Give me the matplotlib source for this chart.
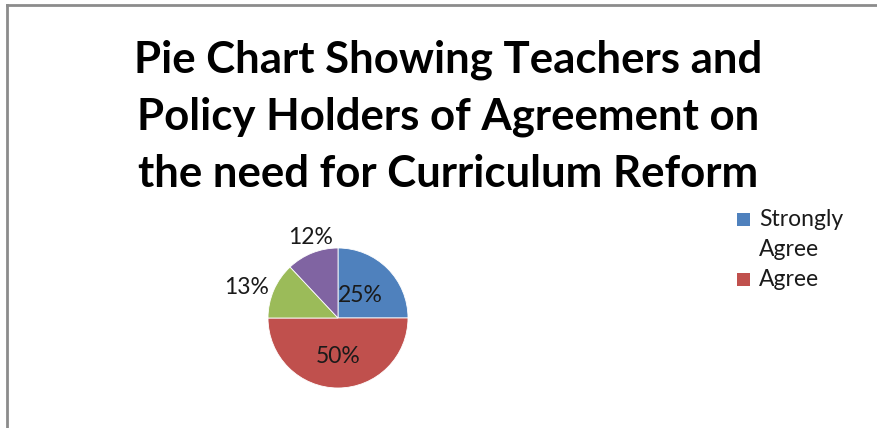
import numpy as np
import matplotlib
matplotlib.use("Agg")
import matplotlib.pyplot as plt
from matplotlib.lines import Line2D
from matplotlib.patches import Rectangle

categories = ["Strongly\nAgree", "Agree", "Disagree", "Strongly\nDisagree"]
values = [25, 50, 13, 12]
colors = ["#4F81BD", "#C0504D", "#9BBB59", "#8064A2"]
label_dist = [0.45, 0.55, 1.08, 1.08]   # < 1 inside the slice, > 1 outside

title = ("Pie Chart Showing Teachers and\n"
         "Policy Holders of Agreement on\n"
         "the need for Curriculum Reform")

plt.rcParams['font.family'] = ['Lato', 'DejaVu Sans']

W, H = 878, 428
fig = plt.figure(figsize=(W / 100, H / 100), dpi=100)

# frame lines (top and left only visible in the crop)
fig.add_artist(Line2D([7 / W, 1], [1 - 5 / H, 1 - 5 / H], color="#8c8c8c", lw=2))
fig.add_artist(Line2D([7 / W, 7 / W], [0, 1 - 5 / H], color="#8c8c8c", lw=2))

fig.text(0.51, 0.727, title, ha="center", va="center", fontsize=31.5,
         fontweight="bold", linespacing=1.5, color="black")

ax = fig.add_axes([268 / W, 40 / H, 140 / W, 140 / H])
wedges, texts = ax.pie(values, colors=colors, startangle=90, counterclock=False,
                       radius=1, wedgeprops=dict(edgecolor="white", linewidth=0.6))
ax.set_xlim(-1, 1)
ax.set_ylim(-1, 1)
ax.set_aspect("equal")
ax.axis("off")

total = sum(values)
for w, v, d in zip(wedges, values, label_dist):
    ang = np.deg2rad((w.theta1 + w.theta2) / 2)
    c, s = np.cos(ang), np.sin(ang)
    txt = f"{round(100 * v / total)}%"
    if d < 1:
        ha, va = "center", "center"
    else:
        ha = "right" if c < -0.5 else ("left" if c > 0.5 else "center")
        va = "bottom" if s > 0.5 else ("top" if s < -0.5 else "center")
    ax.text(d * c, d * s, txt, ha=ha, va=va, fontsize=16.5, color="#1a1a1a")

# legend (only the first two entries fit in the visible area)
base_y = 226      # baseline of first legend line, px from top
line_h = 30
row = 0
for lab, col in zip(categories[:2], colors[:2]):
    y = base_y + row * line_h
    fig.add_artist(Rectangle((737 / W, 1 - y / H), 13 / W, 13 / H,
                             facecolor=col, edgecolor="none"))
    for k, part in enumerate(lab.split("\n")):
        fig.text(759 / W, 1 - (y + k * line_h) / H, part, ha="left",
                 va="baseline", fontsize=16.5, color="#1a1a1a")
    row += len(lab.split("\n"))

fig.savefig("out.png", dpi=100)
